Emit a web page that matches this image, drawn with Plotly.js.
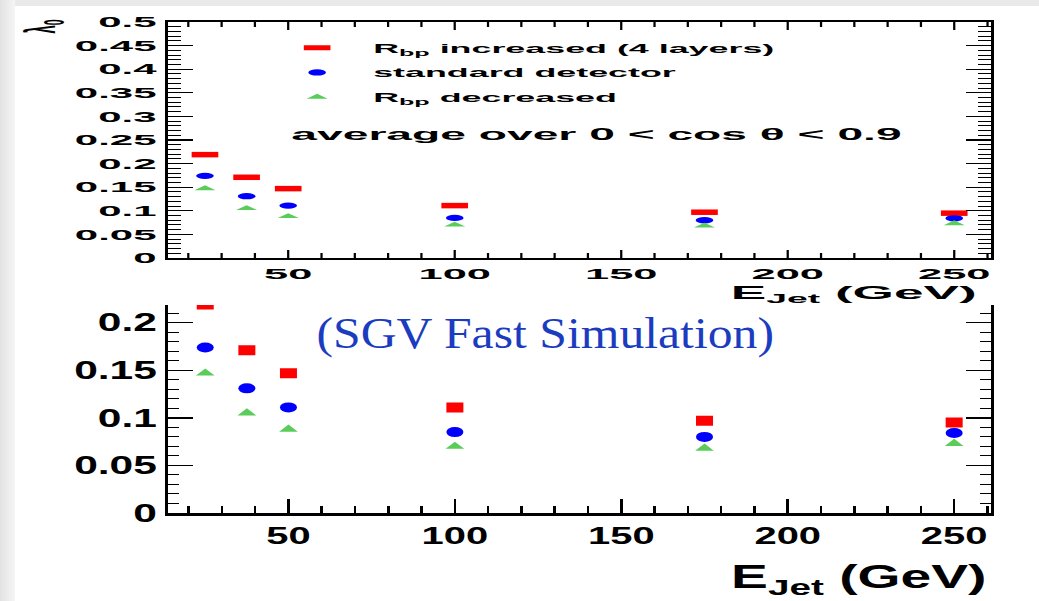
<!DOCTYPE html>
<html><head><meta charset="utf-8">
<script src="https://cdn.plot.ly/plotly-3.0.1.min.js"></script>
<style>
html,body{margin:0;padding:0;width:1039px;height:601px;overflow:hidden;}
body{background:#e9e9e9;position:relative;}
#lband{position:absolute;left:0;top:0;width:15px;height:601px;background:linear-gradient(to right,#e2e2e2,#f5f5f5);}
#frame{position:absolute;left:15px;top:6px;right:0;bottom:0;background:#ffffff;}
.panel{position:absolute;left:0;transform-origin:0 0;}
</style></head><body>
<div id="lband"></div><div id="frame"></div>
<div id="bottom" class="panel"></div>
<div id="top" class="panel"></div>
<div id="note" class="panel"></div>
<script>
// ---- data ----
const E_JET = [25, 37.5, 50, 100, 175, 250];
const RBP_INCREASED = [0.219, 0.171, 0.147, 0.111, 0.097, 0.095];
const STANDARD_DET = [0.174, 0.131, 0.111, 0.085, 0.080, 0.084];
const RBP_DECREASED = [0.147, 0.105, 0.088, 0.070, 0.068, 0.073];
const SERIES_NAMES = ['R<sub>bp</sub> increased (4 layers)', 'standard detector', 'R<sub>bp</sub> decreased'];
const SERIES_COLORS = ['#ff0000', '#0000ff', '#5acc5a'];
const X_TITLE = 'E<sub>Jet</sub> (GeV)';
const Y_TITLE = '\u03bb<sub>0</sub>';
const CUT_TEXT = 'average over 0 < cos \u03b8 < 0.9';
const NOTE_TEXT = '(SGV Fast Simulation)';
const X_RANGE = [13.9, 261.1];
const TOP_Y_RANGE = [0, 0.5];
const BOT_Y_RANGE = [0, 0.2186];

const SANS = 'Liberation Sans, Arial, Helvetica, sans-serif';
const SERIF = 'Liberation Serif, Times New Roman, serif';
const SERIES_Y = [RBP_INCREASED, STANDARD_DET, RBP_DECREASED];

// ---- geometry (real px) ----
const PX_L = 169, PX_R = 991;

function axisX(len, minlen, lw, tw, fsize, mirror) {
  return {
    range: X_RANGE, tickmode: 'linear', tick0: 0, dtick: 50,
    ticks: 'inside', ticklen: len, tickwidth: tw, tickcolor: '#000',
    showline: true, linewidth: lw, linecolor: '#000', mirror: mirror,
    showgrid: false, zeroline: false, fixedrange: true,
    tickfont: {family: SANS, size: fsize, weight: 'bold', color: '#000'},
    minor: {dtick: 10, ticks: 'inside', ticklen: minlen, tickwidth: tw, tickcolor: '#000', showgrid: false}
  };
}
function axisY(range, len, minlen, lw, tw, fsize, standoff) {
  return {
    range: range, tickmode: 'linear', tick0: 0, dtick: 0.05,
    ticks: 'inside', ticklen: len, tickwidth: tw, tickcolor: '#000',
    showline: true, linewidth: lw, linecolor: '#000', mirror: 'ticks',
    showgrid: false, zeroline: false, fixedrange: true,
    ticklabelstandoff: standoff,
    tickfont: {family: SANS, size: fsize, weight: 'bold', color: '#000'},
    minor: {dtick: 0.01, ticks: 'inside', ticklen: minlen, tickwidth: 1, tickcolor: '#000', showgrid: false}
  };
}

// ---------- top panel (stretched x2.8) ----------
const S1 = 2.8, H1 = 318;
const W1 = 1039 / S1;
const topDiv = document.getElementById('top');
topDiv.style.top = '0px'; topDiv.style.width = W1 + 'px'; topDiv.style.height = H1 + 'px';
topDiv.style.transform = 'scaleX(' + S1 + ')';
const topSymbols = ['line-ew-open', 'circle', 'triangle-up'];
const topSizes = [6.8, 6.3, 6.5];
const topTraces = SERIES_Y.map((ys, i) => ({
  type: 'scatter', mode: 'markers', x: E_JET, y: ys, name: SERIES_NAMES[i],
  legendgroup: 'g' + i, cliponaxis: false,
  marker: {symbol: topSymbols[i], size: topSizes[i], color: SERIES_COLORS[i],
           line: {width: i === 0 ? 5.5 : 0, color: SERIES_COLORS[i]}}
}));
const tT = 22, tB = 258;
const topLayout = {
  width: W1, height: H1,
  margin: {l: PX_L / S1, r: W1 - PX_R / S1, t: tT, b: H1 - tB, pad: 0},
  paper_bgcolor: 'rgba(0,0,0,0)', plot_bgcolor: 'rgba(0,0,0,0)',
  xaxis: axisX(8, 5, 2, 0.8, 15.5, 'ticks'),
  yaxis: axisY(TOP_Y_RANGE, 9, 4.6, 1.1, 1.2, 15, 0),
  showlegend: true,
  legend: {x: (262 - PX_L) / (PX_R - PX_L), y: (258 - 33) / (tB - tT), xanchor: 'left', yanchor: 'top',
           bgcolor: 'rgba(0,0,0,0)', borderwidth: 0, tracegroupgap: 5, itemsizing: 'trace',
           font: {family: SANS, size: 12.8, weight: 'bold', color: '#000'}},
  annotations: [
    {text: CUT_TEXT, xref: 'paper', yref: 'paper', x: (598 - PX_L) / (PX_R - PX_L), y: (tB - 134) / (tB - tT),
     xanchor: 'center', yanchor: 'middle', showarrow: false,
     font: {family: SANS, size: 16.5, weight: 'bold', color: '#000'}},
    {text: X_TITLE, xref: 'paper', yref: 'paper', x: (982 - PX_L) / (PX_R - PX_L), y: (tB - 280) / (tB - tT),
     xanchor: 'right', yanchor: 'top', showarrow: false,
     font: {family: SANS, size: 19, weight: 'bold', color: '#000'}},
    {text: Y_TITLE, xref: 'paper', yref: 'paper', x: (42 - PX_L) / (PX_R - PX_L), y: (tB - 27) / (tB - tT),
     xanchor: 'center', yanchor: 'middle', textangle: -90, showarrow: false,
     font: {family: SANS, size: 15, weight: 'bold', color: '#000'}}
  ]
};
Plotly.newPlot(topDiv, topTraces, topLayout, {staticPlot: true, displayModeBar: false});

// ---------- bottom panel (stretched x1.7) ----------
const S2 = 1.7, Y2 = 303, H2 = 601 - 303;
const W2 = 1039 / S2;
const botDiv = document.getElementById('bottom');
botDiv.style.top = Y2 + 'px'; botDiv.style.width = W2 + 'px'; botDiv.style.height = H2 + 'px';
botDiv.style.transform = 'scaleX(' + S2 + ')';
const botSymbols = ['square', 'circle', 'triangle-up'];
const botSizes = [10, 10, 9.5];
const botTraces = SERIES_Y.map((ys, i) => ({
  type: 'scatter', mode: 'markers', x: E_JET, y: ys, name: SERIES_NAMES[i],
  showlegend: false, cliponaxis: true,
  marker: {symbol: botSymbols[i], size: botSizes[i], color: SERIES_COLORS[i], line: {width: 0}}
}));
const bT = 305, bB = 513.3;
const botLayout = {
  width: W2, height: H2,
  margin: {l: PX_L / S2, r: W2 - PX_R / S2, t: bT - Y2, b: 601 - bB, pad: 0},
  paper_bgcolor: 'rgba(0,0,0,0)', plot_bgcolor: 'rgba(0,0,0,0)',
  xaxis: axisX(14, 7, 3, 1.5, 23.5, false),
  yaxis: axisY(BOT_Y_RANGE, 14.7, 6.5, 1.7, 1.5, 25, 0),
  showlegend: false,
  annotations: [
    {text: X_TITLE, xref: 'paper', yref: 'paper', x: (990 - PX_L) / (PX_R - PX_L), y: (bB - 557) / (bB - bT),
     xanchor: 'right', yanchor: 'top', showarrow: false,
     font: {family: SANS, size: 32.5, weight: 'bold', color: '#000'}}
  ]
};
Plotly.newPlot(botDiv, botTraces, botLayout, {staticPlot: true, displayModeBar: false});

// ---------- overlay note ----------
const S3 = 1.13, W3 = 1039 / S3;
const noteDiv = document.getElementById('note');
noteDiv.style.top = '0px'; noteDiv.style.width = W3 + 'px'; noteDiv.style.height = '601px';
noteDiv.style.transform = 'scaleX(' + S3 + ')';
Plotly.newPlot(noteDiv, [], {
  width: W3, height: 601, margin: {l: 0, r: 0, t: 0, b: 0},
  paper_bgcolor: 'rgba(0,0,0,0)', plot_bgcolor: 'rgba(0,0,0,0)',
  xaxis: {visible: false, range: [0, 1]}, yaxis: {visible: false, range: [0, 1]},
  annotations: [{text: NOTE_TEXT, xref: 'paper', yref: 'paper', x: 545 / 1039, y: 1 - 334 / 601,
    xanchor: 'center', yanchor: 'middle', showarrow: false,
    font: {family: SERIF, size: 44, color: '#1c3cc0'}}]
}, {staticPlot: true, displayModeBar: false});
</script>
</body></html>
